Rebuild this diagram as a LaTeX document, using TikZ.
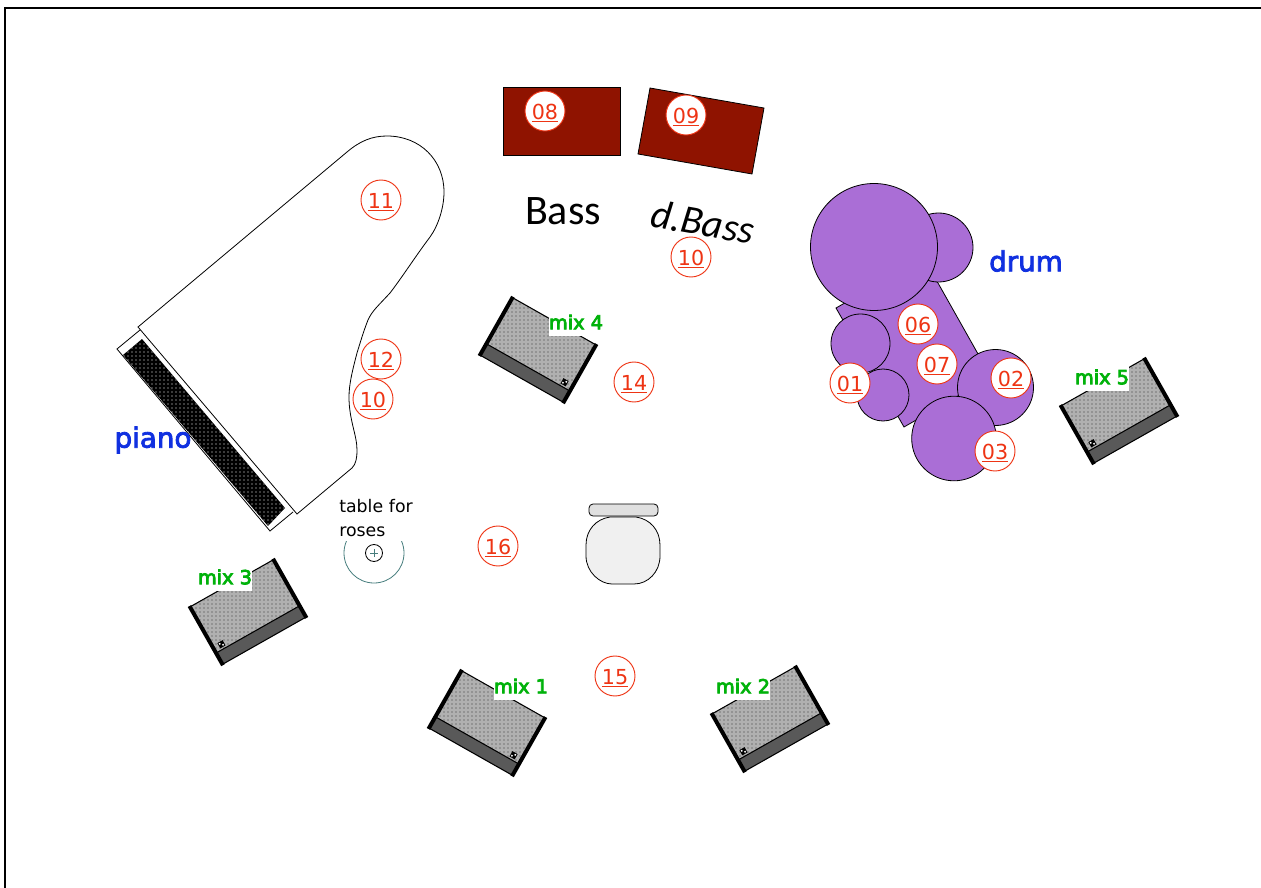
\documentclass[tikz,border=0pt]{standalone}
\usepackage{fontspec}
\usetikzlibrary{patterns}
\setmainfont{DejaVu Sans}
\newfontfamily\bassfont{Carlito}
\newcommand{\heavy}[1]{\special{pdf:code 2 Tr 0.6 w}#1\special{pdf:code 0 Tr}}

\definecolor{drumpurple}{RGB}{170,110,214}
\definecolor{ampred}{RGB}{143,19,0}
\definecolor{numred}{RGB}{238,52,20}
\definecolor{mixgreen}{RGB}{0,178,10}
\definecolor{nameblue}{RGB}{16,48,224}
\definecolor{tableteal}{RGB}{70,125,125}

\tikzset{
    numcircle/.style={circle,draw=numred,fill=white,text=numred,line width=0.7pt,
        minimum size=30pt,inner sep=0pt,text height=13pt,text depth=0.2pt,
        font=\fontsize{15.5}{16}\selectfont},
    mixlabel/.style={fill=white,text=mixgreen,inner sep=0pt,minimum width=41pt,
        minimum height=21pt,font=\fontsize{14.5}{16}\selectfont},
    namelabel/.style={text=nameblue,inner sep=0pt,font=\fontsize{20.8}{24}\selectfont},
    basslabel/.style={inner sep=0pt,font=\bassfont\fontsize{31.5}{34}\selectfont},
    drumpart/.style={draw=black,fill=drumpurple,line width=0.6pt},
    amp/.style={draw=black,fill=ampred,line width=0.6pt},
    mixer/.pic={
        \fill[gray!62] (-48,-33) rectangle (48,20);
        \fill[pattern=dots,pattern color=black!80] (-48,-33) rectangle (48,20);
        \fill[black!65] (-48,20) rectangle (48,33);
        \draw[line width=0.8pt] (-48,-33) -- (48,-33) (-48,33) -- (48,33) (-48,20) -- (48,20);
        \draw[line width=3pt] (-48,-34) -- (-48,34);
        \draw[line width=3pt] (48,-34) -- (48,34);
        \fill[black] (-42,12) rectangle (-36,18);
        \fill[white] (-41,13) rectangle (-39.5,14.5) (-38.5,15.5) rectangle (-37,17);
    }
}

\begin{document}
\begin{tikzpicture}[x=0.75pt,y=-0.75pt]
\useasboundingbox (0,0) rectangle (1261,888);

% Frame
\draw[line width=1.5pt] (5,888) -- (5,8) -- (1261,8);

% Piano body
\draw[line width=0.6pt] (138,327) -- (347,152)
    .. controls (360,141) and (372,136) .. (387,136)
    .. controls (420,136) and (444,160) .. (444,192)
    .. controls (444,208) and (438,226) .. (430,237)
    .. controls (415,257) and (403,276) .. (390,293)
    .. controls (378,306) and (372,311) .. (368,320)
    .. controls (364,330) and (361,340) .. (357,353)
    .. controls (352,372) and (349,385) .. (349,397)
    .. controls (349,420) and (357,435) .. (357,450)
    .. controls (357,458) and (356,464) .. (352,468)
    -- (297,514) -- cycle;

% Keyboard
\draw[line width=0.6pt] (140,330) -- (117,349) -- (270,531) -- (293,512);
\fill[black] (142,339) -- (123,355) -- (268,526) -- (285,508) -- cycle;
\fill[pattern=dots,pattern color=white] (142,339) -- (123,355) -- (268,526) -- (285,508) -- cycle;

% Amps
\draw[amp] (503,87) rectangle (620,155);
\draw[amp] (650,88) -- (764,108) -- (752,174) -- (638,154) -- cycle;

% Drum kit
\draw[drumpart] (920,260) -- (836,308) -- (904,427) -- (991,377) -- (938,283) -- cycle;
\draw[drumpart] (938.5,247.5) circle (34.5);
\draw[drumpart] (874,247) circle (63.5);
\draw[drumpart] (883,395) circle (26);
\draw[drumpart] (860.5,343.5) circle (29.5);
\draw[drumpart] (995.5,387.5) circle (38);
\draw[drumpart] (954,438.5) circle (42.3);

% Table
\draw[tableteal,line width=0.6pt] (374,553) circle (30);
\draw[line width=0.6pt] (374,553) circle (8.5);
\draw[tableteal,line width=0.6pt] (370,553) -- (378,553) (374,549) -- (374,557);
\node[fill=white,inner sep=0pt,align=left,anchor=north west,text width=56pt,
    minimum height=34pt,font=\fontsize{13}{18}\selectfont] (tabletext) at (339,495) {table for\\roses};

% Stool
\draw[fill=black!12,line width=0.6pt,rounded corners=3pt] (589,504) rectangle (658,516);
\draw[fill=black!6,line width=0.6pt] (610,517)
    .. controls (596,519) and (586,530) .. (586,545) -- (586,556)
    .. controls (586,572) and (600,584) .. (612,584) -- (634,584)
    .. controls (648,584) and (660,572) .. (660,556) -- (660,545)
    .. controls (660,530) and (650,519) .. (636,517) -- cycle;

% Monitors
\pic[rotate=-29.5,xscale=-1] at (487,723) {mixer};
\pic[rotate=29.5] at (770,719) {mixer};
\pic[rotate=29.5] at (248,612) {mixer};
\pic[rotate=-29.5,xscale=-1] at (538,350) {mixer};
\pic[rotate=29.5] at (1119,411) {mixer};

% Monitor labels
\node[mixlabel] (mixa) at (521,686) {\heavy{mix 1}};
\node[mixlabel] (mixb) at (743,686) {\heavy{mix 2}};
\node[mixlabel] (mixc) at (225,577) {\heavy{mix 3}};
\node[mixlabel] (mixd) at (576,322) {\heavy{mix 4}};
\node[mixlabel] (mixe) at (1102,377) {\heavy{mix 5}};

% Names
\node[namelabel] (piano) at (153,440) {\heavy{piano}};
\node[namelabel] (drum) at (1026,261) {\heavy{drum}};
\node[basslabel] (bass) at (563,211) {Bass};
\node[basslabel,rotate=-10,font=\bassfont\fontsize{30}{32}\selectfont] (dbass) at (703,222) {\itshape d.Bass};

% Numbers
\node[numcircle] (n08) at (545,111) {\underline{08}};
\node[numcircle] (n09) at (686,115) {\underline{09}};
\node[numcircle] (n11) at (381,200) {\underline{11}};
\node[numcircle] (n10a) at (691,257) {\underline{10}};
\node[numcircle] (n06) at (918,324) {\underline{06}};
\node[numcircle] (n07) at (937,364) {\underline{07}};
\node[numcircle] (n01) at (850,383) {\underline{01}};
\node[numcircle] (n02) at (1011,378) {\underline{02}};
\node[numcircle] (n03) at (995,451) {\underline{03}};
\node[numcircle] (n12) at (381,359) {\underline{12}};
\node[numcircle] (n10b) at (373,399) {\underline{10}};
\node[numcircle] (n14) at (634,382) {\underline{14}};
\node[numcircle] (n16) at (498,546) {\underline{16}};
\node[numcircle] (n15) at (615,676) {\underline{15}};

\end{tikzpicture}
\end{document}
